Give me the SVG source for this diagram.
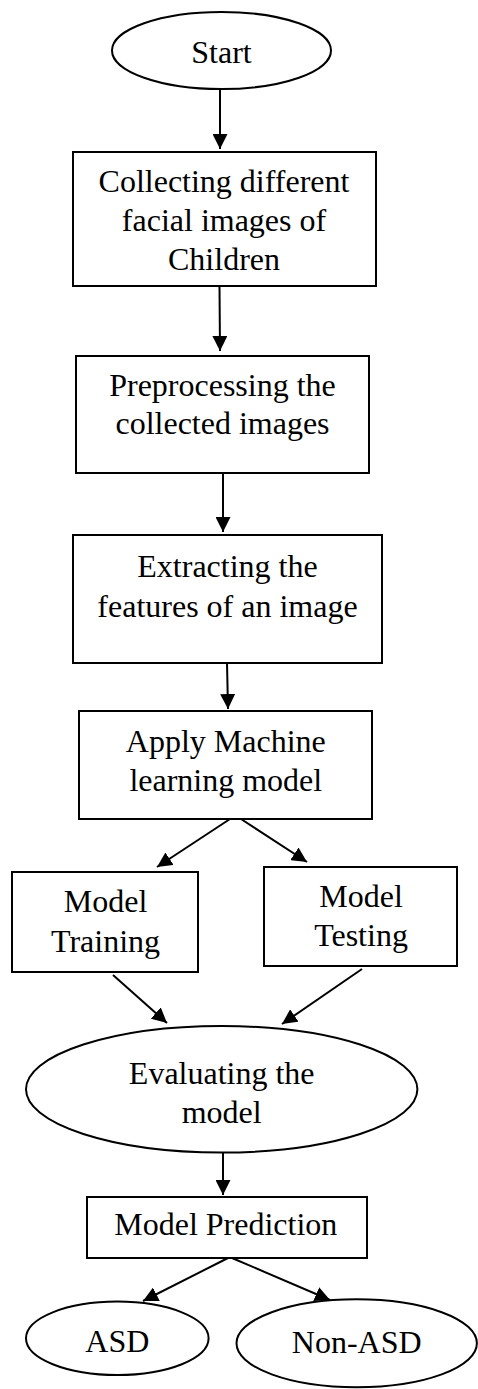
<svg xmlns="http://www.w3.org/2000/svg" width="478" height="1389" viewBox="0 0 478 1389">
<style>
.box{fill:#fff;stroke:#000;stroke-width:2}
.ell{fill:#fff;stroke:#000;stroke-width:2}
.t{font-family:"Liberation Serif","Times New Roman",serif;font-size:32px;fill:#000;text-anchor:middle}
.c{fill:none;stroke:#000;stroke-width:2;marker-end:url(#ah)}
</style>
<defs>
<marker id="ah" viewBox="0 0 15 15" refX="15" refY="7.5" markerWidth="15" markerHeight="15" markerUnits="userSpaceOnUse" orient="auto">
<path d="M0,0 L15,7.5 L0,15 z" fill="#000"/>
</marker>
</defs>
<rect width="478" height="1389" fill="#fff"/>
<g id="connectors">
<path class="c" d="M220,89 L220,149"/>
<path class="c" d="M219.5,286 L220,351"/>
<path class="c" d="M223,473 L223,532"/>
<path class="c" d="M227,663 L228,709"/>
<path class="c" d="M230,819 L157,867"/>
<path class="c" d="M241,819 L307,862"/>
<path class="c" d="M113,975 L167,1023"/>
<path class="c" d="M362,969 L282,1024"/>
<path class="c" d="M223,1153 L223,1195"/>
<path class="c" d="M228,1258 L143,1301"/>
<path class="c" d="M232,1258 L330,1300"/>
</g>
<g id="start">
<ellipse class="ell" cx="221.5" cy="50.5" rx="109.5" ry="38.5"/>
<text class="t" x="221.5" y="63">Start</text>
</g>
<g id="collect">
<rect class="box" x="73" y="152" width="303" height="134"/>
<text class="t" x="224" y="192">Collecting different</text>
<text class="t" x="224" y="231">facial images of</text>
<text class="t" x="224" y="270">Children</text>
</g>
<g id="preprocess">
<rect class="box" x="76" y="356" width="293" height="117"/>
<text class="t" x="222.5" y="396">Preprocessing the</text>
<text class="t" x="222.5" y="434">collected images</text>
</g>
<g id="extract">
<rect class="box" x="73" y="535" width="309" height="128"/>
<text class="t" x="227.5" y="577">Extracting the</text>
<text class="t" x="227.5" y="617">features of an image</text>
</g>
<g id="apply">
<rect class="box" x="79" y="711" width="293" height="108"/>
<text class="t" x="225.8" y="751.5">Apply Machine</text>
<text class="t" x="225.8" y="790.5">learning model</text>
</g>
<g id="training">
<rect class="box" x="12" y="872" width="186" height="100"/>
<text class="t" x="105.5" y="911.5">Model</text>
<text class="t" x="105.5" y="951.5">Training</text>
</g>
<g id="testing">
<rect class="box" x="264" y="867" width="193" height="99"/>
<text class="t" x="361" y="906.5">Model</text>
<text class="t" x="361" y="946">Testing</text>
</g>
<g id="evaluate">
<ellipse class="ell" cx="221.7" cy="1089.3" rx="195.7" ry="63.3"/>
<text class="t" x="221.7" y="1084.3">Evaluating the</text>
<text class="t" x="221.7" y="1122.7">model</text>
</g>
<g id="predict">
<rect class="box" x="87" y="1197" width="280" height="61"/>
<text class="t" x="225.8" y="1235">Model Prediction</text>
</g>
<g id="asd">
<ellipse class="ell" cx="117.3" cy="1338.3" rx="91.3" ry="36.7"/>
<text class="t" x="117.3" y="1351.7">ASD</text>
</g>
<g id="nonasd">
<ellipse class="ell" cx="356.7" cy="1343.3" rx="120.2" ry="44"/>
<text class="t" x="356.7" y="1353.3">Non-ASD</text>
</g>
</svg>
